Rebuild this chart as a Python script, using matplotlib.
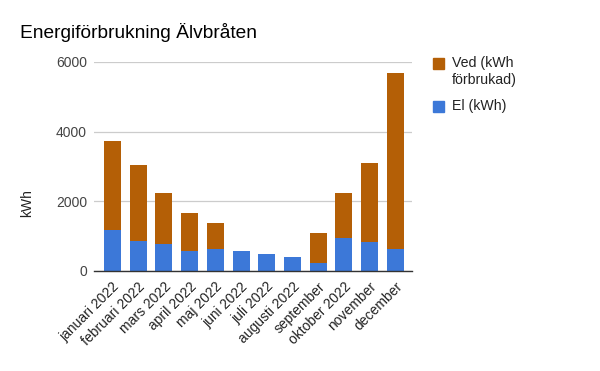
import numpy as np
import matplotlib
matplotlib.use('Agg')
import matplotlib.pyplot as plt
from matplotlib.patches import Rectangle

plt.rcParams['font.family'] = ['Liberation Sans', 'DejaVu Sans']

# months shown on the x axis
manader = ['januari 2022', 'februari 2022', 'mars 2022', 'april 2022', 'maj 2022',
           'juni 2022', 'juli 2022', 'augusti 2022', 'september', 'oktober 2022',
           'november', 'december']
# electricity (kWh)
el = [1180, 855, 785, 575, 625, 575, 490, 400, 230, 950, 835, 625]
# total per month, wood = total - el
totalt = [3740, 3040, 2235, 1660, 1370, 575, 490, 400, 1085, 2235, 3095, 5685]
ved = [t - e for t, e in zip(totalt, el)]

blue = '#3c78d8'
brown = '#b45f06'

fig = plt.figure(figsize=(6, 3.71), dpi=100)
ax = fig.add_axes([94/600, 1 - 271/371, 318/600, 209/371])

x = np.arange(len(manader))
ax.bar(x, el, width=0.66, color=blue, zorder=2)
ax.bar(x, ved, width=0.66, bottom=el, color=brown, zorder=2)

ax.set_ylim(0, 6000)
ax.set_xlim(-0.72, len(manader) - 0.35)
ax.set_yticks([0, 2000, 4000, 6000])
ax.set_yticklabels(['0', '2000', '4000', '6000'], fontsize=10, color='#444444')
ax.yaxis.grid(True, color='#cccccc', linewidth=0.9, zorder=0)
ax.tick_params(axis='both', length=0)
ax.tick_params(axis='y', pad=5)
for s in ['top', 'right', 'left']:
    ax.spines[s].set_visible(False)
ax.spines['bottom'].set_color('#333333')
ax.spines['bottom'].set_linewidth(1.0)
ax.spines['bottom'].set_zorder(3)

ax.set_xticks(x)
ax.set_xticklabels(manader, rotation=45, ha='right', va='top', rotation_mode='anchor',
                   fontsize=10, color='#222222')
ax.tick_params(axis='x', pad=6)

fig.text(27/600, 1 - 203/371, 'kWh', rotation=90, ha='center', va='center',
         fontsize=10, color='#222222')
fig.text(20/600, 1 - 32/371, 'Energiförbrukning Älvbråten', ha='left', va='center',
         fontsize=13.8, color='#000000')

# legend drawn by hand
for yy, col in [(63, brown), (106, blue)]:
    fig.patches.append(Rectangle((433/600, 1 - (yy + 5.5)/371), 11/600, 11/371,
                                 transform=fig.transFigure, color=col))
fig.text(452/600, 1 - 63/371, 'Ved (kWh', ha='left', va='center', fontsize=10.2, color='#222222')
fig.text(452/600, 1 - 80/371, 'förbrukad)', ha='left', va='center', fontsize=10.2, color='#222222')
fig.text(452/600, 1 - 106/371, 'El (kWh)', ha='left', va='center', fontsize=10.2, color='#222222')

fig.savefig('out.png', dpi=100)
